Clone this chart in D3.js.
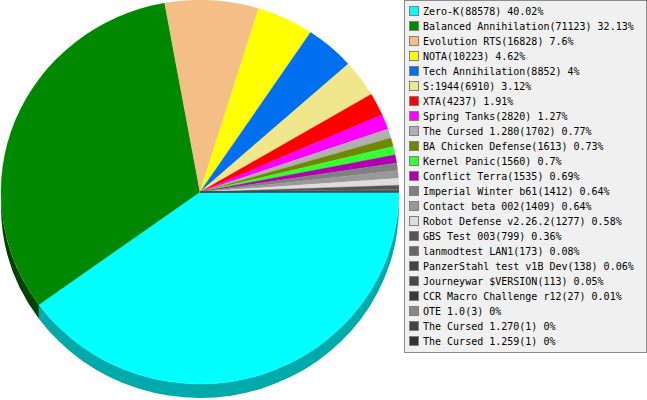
<!DOCTYPE html>
<html><head><meta charset="utf-8">
<script src="https://cdn.jsdelivr.net/npm/d3@7"></script>
<style>html,body{margin:0;padding:0;background:#fff;}svg{display:block;}</style>
</head><body>
<script>
const names = ["Zero-K","Balanced Annihilation","Evolution RTS","NOTA","Tech Annihilation","S:1944","XTA","Spring Tanks","The Cursed 1.280","BA Chicken Defense","Kernel Panic","Conflict Terra","Imperial Winter b61","Contact beta 002","Robot Defense v2.26.2","GBS Test 003","lanmodtest LAN1","PanzerStahl test v1B Dev","Journeywar $VERSION","CCR Macro Challenge r12","OTE 1.0","The Cursed 1.270","The Cursed 1.259"];
const values = [88578,71123,16828,10223,8852,6910,4237,2820,1702,1613,1560,1535,1412,1409,1277,799,173,138,113,27,3,1,1];
const colors = ["#00ffff","#008800","#f4bf86","#ffff00","#0070f0","#f0e68c","#ff0000","#ff00ff","#b0b0b0","#708800","#33ff33","#b000b0","#808080","#999999","#dddddd","#555555","#666666","#444444","#4a4a4a","#3a3a3a","#888888","#444444","#333333"];
const wallColors = ["#00aaaa","#004200"];

(function () {
const W = 647, H = 400;
const cx = 200, cy = 192, rx = 199, ry = 192, depth = 14;
const svg = d3.select("body").append("svg").attr("width", W).attr("height", H);

const total = d3.sum(values);
const data = names.map((n, i) => ({name: n, value: values[i], color: colors[i]}));
const pie = d3.pie().sort(null).value(d => d.value).startAngle(Math.PI / 2).endAngle(Math.PI / 2 + 2 * Math.PI);
const arcs = pie(data);
const sy = ry / rx;
const depthU = depth / sy;

// side wall (visible in lower half)
const wall = svg.append("g").attr("transform", `translate(${cx},${cy}) scale(1,${sy})`);
arcs.forEach(a => {
  let s = a.startAngle - Math.PI / 2, e = a.endAngle - Math.PI / 2;
  s = Math.max(s, 0); e = Math.min(e, Math.PI);
  if (e <= s) return;
  const p = d3.path();
  p.moveTo(rx * Math.cos(s), rx * Math.sin(s));
  p.arc(0, 0, rx, s, e, false);
  p.lineTo(rx * Math.cos(e), rx * Math.sin(e) + depthU);
  p.arc(0, depthU, rx, e, s, true);
  p.closePath();
  const c = d3.rgb(a.data.color);
  const fill = wallColors[a.index] || d3.rgb(c.r * 0.6, c.g * 0.6, c.b * 0.6).toString();
  wall.append("path").attr("d", p.toString()).attr("fill", fill);
});

// top face
const arcGen = d3.arc().innerRadius(0).outerRadius(rx);
const face = svg.append("g").attr("transform", `translate(${cx},${cy}) scale(1,${sy})`);
face.selectAll("path").data(arcs).join("path")
  .attr("d", arcGen)
  .attr("fill", d => d.data.color)
  .attr("stroke", d => d.data.color)
  .attr("stroke-width", 0.3);

// legend
const lx = 404, ly = 0, lw = 242, lh = 353, step = 15;
const leg = svg.append("g");
leg.append("rect").attr("x", lx + 0.5).attr("y", ly + 0.5).attr("width", lw).attr("height", lh - 1)
  .attr("fill", "#f0f0f0").attr("stroke", "#8c8c8c");
const fmt = v => String(Math.round(v / total * 10000) / 100);
const items = leg.selectAll("g.it").data(data).join("g").attr("class", "it")
  .attr("transform", (d, i) => `translate(${lx + 5},${ly + 11 + i * step})`);
items.append("rect").attr("x", 0.5).attr("y", -4.5).attr("width", 9).attr("height", 9)
  .attr("fill", d => d.color).attr("stroke", "#808080");
items.append("text").attr("x", 14).attr("y", 4)
  .attr("font-family", "DejaVu Sans Mono, monospace").attr("font-size", 10).attr("fill", "#000")
  .text(d => `${d.name}(${d.value}) ${fmt(d.value)}%`);
})();
</script>
</body></html>
